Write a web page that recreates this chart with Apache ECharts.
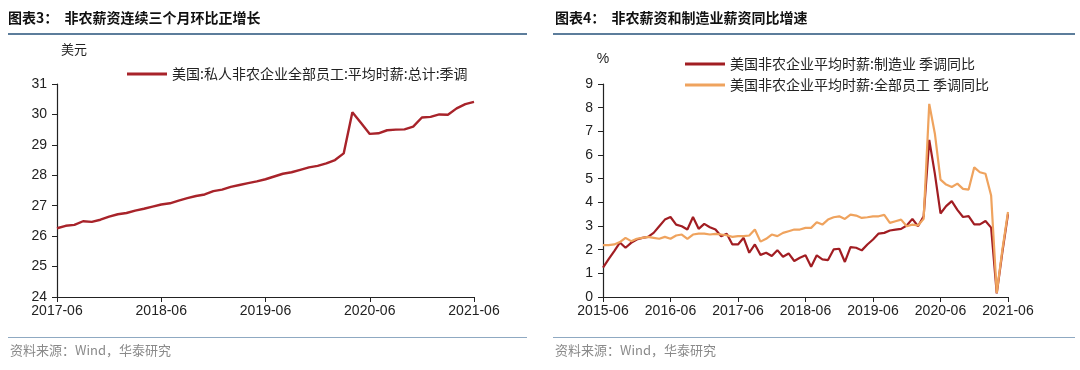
<!DOCTYPE html>
<html>
<head>
<meta charset="utf-8">
<script src="https://cdn.jsdelivr.net/npm/echarts@6/dist/echarts.min.js"></script>
<style>
html,body{margin:0;padding:0;background:#fff;}
#c{width:1080px;height:370px;}
</style>
</head>
<body>
<div id="c"></div>
<script>
// ---------- data ----------
function monthRange(y, m, n) {
  const out = [];
  for (let i = 0; i < n; i++) {
    const mm = m + i;
    const yy = y + Math.floor((mm - 1) / 12);
    const mo = ((mm - 1) % 12) + 1;
    out.push(yy + '-' + (mo < 10 ? '0' + mo : mo));
  }
  return out;
}
const leftCategories = monthRange(2017, 6, 49);   // 2017-06 .. 2021-06
const rightCategories = monthRange(2015, 6, 73);  // 2015-06 .. 2021-06

const leftName = '美国:私人非农企业全部员工:平均时薪:总计:季调';
const leftValues = [
  26.26, 26.34, 26.37, 26.49, 26.47, 26.54, 26.64,
  26.72, 26.76, 26.84, 26.90, 26.97, 27.04, 27.08, 27.17, 27.25, 27.32, 27.37, 27.48,
  27.53, 27.62, 27.68, 27.74, 27.80, 27.87, 27.96, 28.05, 28.10, 28.18, 28.26, 28.31,
  28.39, 28.50, 28.72, 30.07, 29.72, 29.36, 29.38, 29.48, 29.50, 29.51, 29.60, 29.90,
  29.92, 30.00, 29.99, 30.20, 30.34, 30.41
];

const mfgName = '美国非农企业平均时薪:制造业 季调同比';
const mfgValues = [
  1.24, 1.60, 1.94, 2.30, 2.08, 2.29, 2.43, 2.50, 2.54, 2.71, 2.99, 3.27,
  3.38, 3.06, 2.99, 2.85, 3.38, 2.88, 3.09, 2.95, 2.85, 2.57, 2.67, 2.22,
  2.22, 2.50, 1.87, 2.22, 1.78, 1.87, 1.73, 1.98, 1.70, 1.84, 1.52, 1.66,
  1.76, 1.28, 1.76, 1.59, 1.56, 2.01, 2.04, 1.48, 2.11, 2.08, 1.97, 2.22,
  2.43, 2.68, 2.71, 2.81, 2.85, 2.88, 3.02, 3.30, 2.99, 3.41, 6.64, 5.20,
  3.53, 3.84, 4.05, 3.68, 3.38, 3.42, 3.07, 3.07, 3.21, 2.93, 0.15, 1.90,
  3.50
];

const allName = '美国非农企业平均时薪:全部员工 季调同比';
const allValues = [
  2.19, 2.19, 2.22, 2.32, 2.50, 2.36, 2.46, 2.50, 2.54, 2.50, 2.46, 2.54,
  2.46, 2.60, 2.64, 2.46, 2.64, 2.68, 2.68, 2.64, 2.67, 2.64, 2.61, 2.54,
  2.57, 2.57, 2.60, 2.85, 2.34, 2.46, 2.64, 2.57, 2.71, 2.78, 2.85, 2.85,
  2.92, 2.92, 3.16, 3.06, 3.27, 3.37, 3.41, 3.30, 3.48, 3.44, 3.34, 3.37,
  3.41, 3.41, 3.47, 3.13, 3.20, 3.27, 2.99, 3.06, 3.02, 3.30, 8.16, 6.90,
  4.96, 4.75, 4.65, 4.79, 4.57, 4.54, 5.48, 5.27, 5.21, 4.29, 0.17, 2.00,
  3.59
];

const leftTicks = { min: 24, max: 31, interval: 1 };
const rightTicks = { min: 0, max: 9, interval: 1 };

// ---------- chart ----------
const numFont = 'Liberation Sans, Arial, sans-serif';
const cjkFont = '"Noto Sans CJK SC", sans-serif';
const axisColor = '#222';
const lineIcon = 'path://M0,0L40,0L40,3L0,3Z';

function xAxisCfg(cats, gridIndex) {
  return {
    type: 'category', gridIndex: gridIndex, data: cats, boundaryGap: false,
    axisLine: { lineStyle: { color: axisColor, width: 1.2 } },
    axisTick: { interval: 11, length: 5, lineStyle: { color: axisColor } },
    axisLabel: { interval: 11, color: '#222', fontFamily: numFont, fontSize: 14, margin: 7 },
    splitLine: { show: false }
  };
}
function yAxisCfg(t, gridIndex, name, nameGap, nameStyle) {
  return {
    type: 'value', gridIndex: gridIndex, min: t.min, max: t.max, interval: t.interval,
    name: name, nameLocation: 'end', nameGap: nameGap,
    nameTextStyle: nameStyle,
    axisLine: { show: true, lineStyle: { color: axisColor, width: 1.2 } },
    axisTick: { show: true, length: 5, lineStyle: { color: axisColor } },
    axisLabel: { color: '#222', fontFamily: numFont, fontSize: 14, margin: 10 },
    splitLine: { show: false }
  };
}

const chart = echarts.init(document.getElementById('c'), null, { renderer: 'canvas' });
chart.setOption({
  backgroundColor: '#fff',
  animation: false,
  grid: [
    { left: 57, right: 606, top: 84, bottom: 73 },
    { left: 603, right: 72, top: 84, bottom: 73 }
  ],
  xAxis: [xAxisCfg(leftCategories, 0), xAxisCfg(rightCategories, 1)],
  yAxis: [
    yAxisCfg(leftTicks, 0, '美元', 26, { color: '#222', fontFamily: cjkFont, fontSize: 13, align: 'left', padding: [0, 0, 2, 4] }),
    yAxisCfg(rightTicks, 1, '%', 14, { color: '#222', fontFamily: numFont, fontSize: 14, align: 'center', padding: [0, 0, 4, 0] })
  ],
  legend: [
    {
      data: [{ name: leftName, icon: lineIcon }], left: 122, top: 62, itemWidth: 40, itemHeight: 3, itemGap: 6,
      textStyle: { color: '#222', fontFamily: cjkFont, fontSize: 14 }
    },
    {
      data: [{ name: mfgName, icon: lineIcon }, { name: allName, icon: lineIcon }],
      orient: 'vertical', left: 680, top: 52, itemWidth: 40, itemHeight: 3, itemGap: 7,
      textStyle: { color: '#222', fontFamily: cjkFont, fontSize: 14 }
    }
  ],
  series: [
    { name: leftName, type: 'line', xAxisIndex: 0, yAxisIndex: 0, data: leftValues, symbol: 'none',
      lineStyle: { color: '#A8232A', width: 2.4 }, itemStyle: { color: '#A8232A' } },
    { name: mfgName, type: 'line', xAxisIndex: 1, yAxisIndex: 1, data: mfgValues, symbol: 'none',
      lineStyle: { color: '#A11D22', width: 2.2 }, itemStyle: { color: '#A11D22' } },
    { name: allName, type: 'line', xAxisIndex: 1, yAxisIndex: 1, data: allValues, symbol: 'none',
      lineStyle: { color: '#EFA35E', width: 2.2 }, itemStyle: { color: '#EFA35E' } }
  ],
  graphic: [
    { type: 'text', left: 8, top: 11, style: { text: '图表3：  非农薪资连续三个月环比正增长', fill: '#111', font: 'bold 14px "Noto Sans CJK SC", sans-serif' } },
    { type: 'text', left: 555, top: 11, style: { text: '图表4：  非农薪资和制造业薪资同比增速', fill: '#111', font: 'bold 14px "Noto Sans CJK SC", sans-serif' } },
    { type: 'rect', shape: { x: 8, y: 33, width: 519, height: 2 }, style: { fill: '#5C7D9B' } },
    { type: 'rect', shape: { x: 553, y: 33, width: 522, height: 2 }, style: { fill: '#5C7D9B' } },
    { type: 'rect', shape: { x: 8, y: 337, width: 519, height: 1 }, style: { fill: '#8FA9C2' } },
    { type: 'rect', shape: { x: 553, y: 337, width: 522, height: 1 }, style: { fill: '#8FA9C2' } },
    { type: 'text', left: 10, top: 344, style: { text: '资料来源：Wind，华泰研究', fill: '#8a8a8a', font: '13px "Noto Sans CJK SC", sans-serif' } },
    { type: 'text', left: 555, top: 344, style: { text: '资料来源：Wind，华泰研究', fill: '#8a8a8a', font: '13px "Noto Sans CJK SC", sans-serif' } }
  ]
});
</script>
</body>
</html>
